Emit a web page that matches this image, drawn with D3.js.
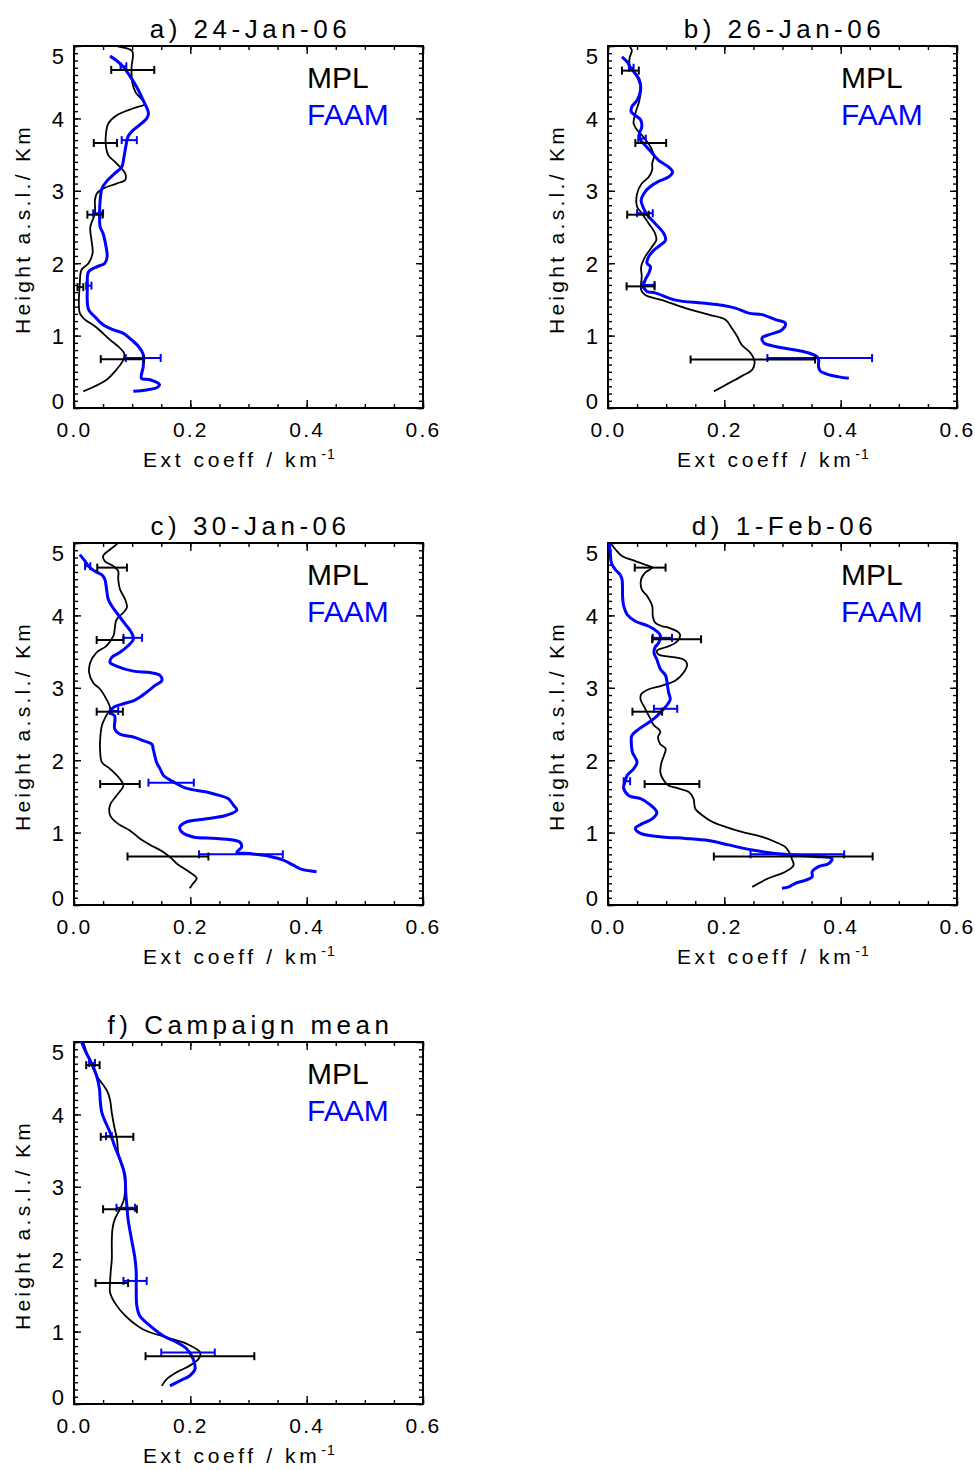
<!DOCTYPE html>
<html><head><meta charset="utf-8">
<script src="https://cdn.jsdelivr.net/npm/d3@7"></script>
<style>
body{margin:0;background:#fff}
text{font-family:"Liberation Sans",Arial,sans-serif;fill:#000}
</style>
</head><body>
<svg id="chart" width="975" height="1470"></svg>
<script>
// ---------------- DATA ----------------
const panelTitles = ["a) 24-Jan-06", "b) 26-Jan-06", "c) 30-Jan-06", "d) 1-Feb-06", "f) Campaign mean"];
const seriesNames = ["MPL", "FAAM"];
const xTickValues = [0.0, 0.2, 0.4, 0.6];
const yTickValues = [0, 1, 2, 3, 4, 5];
const xLabel = "Ext coeff / km";
const xLabelSup = "-1";
const yLabel = "Height a.s.l./ Km";

// profiles: [height km, extinction km^-1]
const mplA = [[5.05,0.06],[5.0,0.073],[4.93,0.10],[4.71,0.099],[4.50,0.100],[4.36,0.106],[4.25,0.118],[4.20,0.122],[4.14,0.102],[4.04,0.073],[3.93,0.059],[3.79,0.055],[3.61,0.055],[3.49,0.059],[3.38,0.073],[3.24,0.088],[3.15,0.088],[3.10,0.073],[3.03,0.050],[2.96,0.039],[2.87,0.036],[2.69,0.036],[2.50,0.028],[2.32,0.030],[2.14,0.032],[2.00,0.025],[1.91,0.013],[1.72,0.010],[1.31,0.010],[1.22,0.019],[1.13,0.036],[1.03,0.050],[0.94,0.062],[0.85,0.076],[0.76,0.086],[0.67,0.085],[0.53,0.073],[0.39,0.056],[0.30,0.036],[0.23,0.016]];
const faamA = [[4.86,0.062],[4.80,0.073],[4.71,0.085],[4.55,0.099],[4.43,0.108],[4.25,0.119],[4.07,0.128],[4.00,0.125],[3.93,0.116],[3.84,0.102],[3.75,0.093],[3.61,0.089],[3.47,0.086],[3.33,0.082],[3.24,0.070],[3.13,0.056],[3.03,0.048],[2.87,0.045],[2.69,0.044],[2.50,0.045],[2.41,0.050],[2.23,0.055],[2.09,0.057],[2.00,0.053],[1.95,0.039],[1.88,0.025],[1.68,0.023],[1.36,0.025],[1.26,0.036],[1.15,0.050],[1.08,0.068],[1.03,0.085],[0.94,0.099],[0.85,0.111],[0.74,0.119],[0.57,0.119],[0.41,0.116],[0.39,0.131],[0.32,0.147],[0.28,0.142],[0.25,0.125],[0.23,0.102]];
const errMplA = [[4.67,0.064,0.138],[3.66,0.034,0.074],[2.67,0.023,0.049],[1.67,0.006,0.016],[0.675,0.046,0.120]];
const errFaamA = [[4.72,0.080,0.090],[3.70,0.082,0.108],[2.69,0.033,0.050],[1.69,0.021,0.030],[0.69,0.089,0.149]];

const mplB = [[5.05,0.036],[4.99,0.038],[4.94,0.041],[4.83,0.037],[4.71,0.038],[4.57,0.050],[4.43,0.056],[4.25,0.054],[4.07,0.047],[3.93,0.044],[3.84,0.050],[3.77,0.058],[3.68,0.067],[3.56,0.076],[3.47,0.079],[3.38,0.076],[3.29,0.076],[3.19,0.070],[3.10,0.058],[2.96,0.050],[2.78,0.050],[2.69,0.058],[2.55,0.070],[2.41,0.081],[2.32,0.083],[2.23,0.076],[2.09,0.064],[1.95,0.057],[1.82,0.058],[1.63,0.057],[1.56,0.064],[1.49,0.093],[1.38,0.133],[1.29,0.173],[1.22,0.202],[1.10,0.213],[0.99,0.222],[0.87,0.230],[0.76,0.245],[0.64,0.252],[0.53,0.248],[0.44,0.230],[0.34,0.207],[0.23,0.182]];
const faamB = [[4.85,0.024],[4.78,0.033],[4.71,0.038],[4.62,0.047],[4.53,0.054],[4.39,0.056],[4.25,0.050],[4.16,0.041],[4.09,0.040],[4.04,0.047],[3.98,0.056],[3.88,0.058],[3.79,0.054],[3.70,0.056],[3.63,0.064],[3.52,0.076],[3.42,0.087],[3.33,0.104],[3.26,0.111],[3.19,0.104],[3.13,0.087],[3.06,0.073],[2.99,0.064],[2.87,0.057],[2.78,0.060],[2.67,0.067],[2.55,0.081],[2.41,0.096],[2.32,0.099],[2.25,0.090],[2.18,0.079],[2.09,0.070],[2.00,0.067],[1.95,0.073],[1.86,0.070],[1.77,0.064],[1.68,0.061],[1.61,0.067],[1.59,0.081],[1.49,0.116],[1.45,0.162],[1.42,0.196],[1.38,0.219],[1.31,0.242],[1.29,0.265],[1.22,0.288],[1.17,0.305],[1.08,0.299],[1.01,0.276],[0.97,0.265],[0.90,0.268],[0.85,0.288],[0.80,0.322],[0.76,0.345],[0.71,0.359],[0.67,0.362],[0.57,0.362],[0.51,0.365],[0.46,0.379],[0.43,0.397],[0.41,0.414]];
const errMplB = [[4.66,0.024,0.053],[3.66,0.047,0.100],[2.67,0.033,0.070],[1.68,0.032,0.080],[0.67,0.142,0.356]];
const errFaamB = [[4.70,0.036,0.044],[3.72,0.052,0.065],[2.69,0.050,0.077],[1.70,0.058,0.080],[0.69,0.274,0.454]];

const mplC = [[5.05,0.080],[4.98,0.073],[4.91,0.062],[4.82,0.050],[4.75,0.053],[4.68,0.068],[4.61,0.076],[4.50,0.076],[4.36,0.079],[4.22,0.088],[4.11,0.091],[4.04,0.085],[3.94,0.073],[3.81,0.070],[3.72,0.068],[3.58,0.056],[3.49,0.039],[3.35,0.028],[3.21,0.026],[3.07,0.033],[2.98,0.045],[2.84,0.056],[2.71,0.062],[2.61,0.055],[2.48,0.048],[2.29,0.045],[2.11,0.045],[1.97,0.048],[1.88,0.062],[1.74,0.079],[1.65,0.085],[1.51,0.073],[1.38,0.062],[1.24,0.062],[1.12,0.076],[1.03,0.096],[0.92,0.113],[0.83,0.131],[0.73,0.154],[0.64,0.168],[0.57,0.177],[0.48,0.194],[0.37,0.211],[0.30,0.205],[0.23,0.199]];
const faamC = [[4.84,0.010],[4.75,0.019],[4.68,0.025],[4.61,0.036],[4.56,0.048],[4.50,0.053],[4.36,0.056],[4.22,0.059],[4.13,0.065],[4.04,0.073],[3.88,0.088],[3.76,0.099],[3.67,0.102],[3.58,0.093],[3.49,0.079],[3.42,0.065],[3.35,0.062],[3.30,0.073],[3.23,0.102],[3.21,0.131],[3.17,0.148],[3.10,0.151],[3.03,0.139],[2.94,0.125],[2.87,0.113],[2.82,0.102],[2.78,0.085],[2.73,0.068],[2.66,0.062],[2.61,0.070],[2.43,0.070],[2.36,0.079],[2.32,0.102],[2.27,0.119],[2.22,0.134],[2.16,0.136],[2.06,0.139],[1.97,0.142],[1.88,0.148],[1.79,0.154],[1.70,0.171],[1.61,0.194],[1.56,0.228],[1.51,0.251],[1.47,0.265],[1.38,0.274],[1.31,0.280],[1.24,0.262],[1.19,0.228],[1.15,0.194],[1.08,0.182],[1.01,0.185],[0.94,0.205],[0.92,0.245],[0.87,0.285],[0.80,0.288],[0.73,0.280],[0.71,0.303],[0.67,0.337],[0.62,0.360],[0.55,0.377],[0.50,0.389],[0.46,0.417]];
const errMplC = [[4.66,0.040,0.091],[3.66,0.039,0.085],[2.67,0.039,0.084],[1.67,0.045,0.113],[0.67,0.092,0.231]];
const errFaamC = [[4.68,0.019,0.028],[3.69,0.085,0.117],[2.68,0.062,0.076],[1.69,0.128,0.206],[0.70,0.215,0.359]];

const mplD = [[5.00,0.004],[4.91,0.013],[4.82,0.024],[4.75,0.047],[4.70,0.064],[4.66,0.076],[4.59,0.064],[4.50,0.057],[4.36,0.058],[4.27,0.067],[4.13,0.076],[3.99,0.077],[3.90,0.081],[3.85,0.093],[3.83,0.104],[3.76,0.122],[3.72,0.124],[3.62,0.116],[3.56,0.099],[3.51,0.084],[3.46,0.087],[3.42,0.116],[3.39,0.130],[3.33,0.136],[3.21,0.130],[3.10,0.116],[3.03,0.093],[2.98,0.070],[2.91,0.057],[2.84,0.056],[2.71,0.064],[2.57,0.073],[2.48,0.079],[2.43,0.087],[2.39,0.090],[2.32,0.086],[2.22,0.090],[2.16,0.099],[2.06,0.096],[1.97,0.092],[1.83,0.090],[1.72,0.096],[1.65,0.104],[1.61,0.121],[1.56,0.139],[1.47,0.147],[1.33,0.150],[1.24,0.162],[1.15,0.179],[1.08,0.202],[1.01,0.230],[0.94,0.265],[0.87,0.288],[0.80,0.305],[0.71,0.313],[0.64,0.316],[0.55,0.319],[0.46,0.305],[0.37,0.276],[0.25,0.248]];
const faamD = [[5.00,0.002],[4.86,0.004],[4.72,0.006],[4.63,0.013],[4.56,0.021],[4.50,0.024],[4.36,0.025],[4.27,0.025],[4.13,0.027],[4.01,0.033],[3.92,0.047],[3.85,0.070],[3.78,0.084],[3.72,0.090],[3.62,0.087],[3.56,0.081],[3.49,0.079],[3.39,0.084],[3.26,0.090],[3.17,0.099],[3.05,0.102],[2.94,0.104],[2.84,0.107],[2.78,0.103],[2.71,0.096],[2.61,0.084],[2.52,0.070],[2.43,0.053],[2.34,0.041],[2.25,0.040],[2.11,0.042],[1.97,0.050],[1.88,0.044],[1.79,0.033],[1.70,0.029],[1.61,0.027],[1.51,0.036],[1.47,0.056],[1.40,0.070],[1.28,0.084],[1.19,0.076],[1.12,0.058],[1.06,0.047],[0.99,0.056],[0.94,0.093],[0.92,0.133],[0.89,0.173],[0.83,0.207],[0.76,0.248],[0.71,0.288],[0.69,0.322],[0.67,0.356],[0.64,0.385],[0.57,0.379],[0.53,0.362],[0.46,0.351],[0.39,0.351],[0.34,0.339],[0.30,0.322],[0.25,0.311],[0.23,0.299]];
const errMplD = [[4.66,0.046,0.099],[3.67,0.076,0.160],[2.67,0.042,0.093],[1.67,0.063,0.157],[0.67,0.182,0.455]];
const errFaamD = [[3.69,0.077,0.110],[2.71,0.079,0.119],[1.71,0.027,0.038],[0.70,0.245,0.406]];

const mplF = [[5.05,0.014],[5.00,0.016],[4.85,0.022],[4.69,0.030],[4.53,0.039],[4.41,0.050],[4.32,0.057],[4.20,0.062],[4.02,0.065],[3.84,0.069],[3.65,0.074],[3.47,0.076],[3.29,0.082],[3.17,0.088],[3.01,0.088],[2.83,0.086],[2.69,0.079],[2.55,0.070],[2.41,0.066],[2.23,0.065],[2.00,0.065],[1.82,0.063],[1.68,0.062],[1.54,0.062],[1.40,0.070],[1.22,0.088],[1.03,0.119],[0.92,0.159],[0.83,0.194],[0.71,0.217],[0.62,0.214],[0.53,0.199],[0.44,0.177],[0.34,0.159],[0.25,0.151]];
const faamF = [[5.05,0.011],[5.00,0.013],[4.85,0.021],[4.71,0.030],[4.53,0.039],[4.34,0.044],[4.20,0.045],[4.02,0.048],[3.86,0.056],[3.75,0.062],[3.56,0.070],[3.38,0.079],[3.24,0.085],[3.10,0.088],[2.92,0.089],[2.73,0.091],[2.55,0.093],[2.27,0.099],[2.00,0.105],[1.82,0.107],[1.59,0.107],[1.36,0.108],[1.22,0.113],[1.08,0.131],[0.94,0.154],[0.85,0.177],[0.76,0.194],[0.62,0.205],[0.48,0.208],[0.39,0.199],[0.32,0.182],[0.25,0.165]];
const errMplF = [[4.68,0.021,0.044],[3.69,0.046,0.102],[2.69,0.050,0.108],[1.67,0.037,0.093],[0.66,0.123,0.310]];
const errFaamF = [[4.71,0.026,0.036],[3.70,0.055,0.065],[2.71,0.073,0.105],[1.70,0.085,0.125],[0.71,0.150,0.242]];

// ---------------- LAYOUT ----------------
const profiles = [
  {mpl: mplA, faam: faamA, eM: errMplA, eF: errFaamA},
  {mpl: mplB, faam: faamB, eM: errMplB, eF: errFaamB},
  {mpl: mplC, faam: faamC, eM: errMplC, eF: errFaamC},
  {mpl: mplD, faam: faamD, eM: errMplD, eF: errFaamD},
  {mpl: mplF, faam: faamF, eM: errMplF, eF: errFaamF}
];
const origins = [[74,46],[608,46],[74,543],[608,543],[74,1042]];
const W = 349, H = 362;
const colors = ["#000000", "#0000ff"];
const FONT = '"Liberation Sans",Arial,sans-serif';

const svg = d3.select("#chart");
const x = d3.scaleLinear().domain([0, 0.6]).range([0, W]);
const y = d3.scaleLinear().domain([0, 5]).range([H, 0]);

profiles.forEach((p, i) => {
  const [L, T] = origins[i];
  const g = svg.append("g").attr("transform", `translate(${L},${T})`);
  const cid = "clip" + i;
  g.append("clipPath").attr("id", cid).append("rect").attr("width", W).attr("height", H);

  // minor ticks
  const xMinor = d3.range(0, 0.6001, 0.05);
  const yMinor = d3.range(0, 5.0001, 0.1);
  const styleAxis = a => { a.select(".domain").remove(); a.selectAll("line").attr("stroke", "#000").attr("stroke-width", 1.4); };
  g.append("g").attr("transform", `translate(0,${H})`).call(d3.axisBottom(x).tickValues(xMinor).tickSize(-4).tickFormat("")).call(styleAxis);
  g.append("g").call(d3.axisTop(x).tickValues(xMinor).tickSize(-4).tickFormat("")).call(styleAxis);
  g.append("g").call(d3.axisLeft(y).tickValues(yMinor).tickSize(-4).tickFormat("")).call(styleAxis);
  g.append("g").attr("transform", `translate(${W},0)`).call(d3.axisRight(y).tickValues(yMinor).tickSize(-4).tickFormat("")).call(styleAxis);

  // major ticks
  const xb = g.append("g").attr("transform", `translate(0,${H})`)
    .call(d3.axisBottom(x).tickValues(xTickValues).tickSize(-8).tickFormat(d3.format(".1f"))).call(styleAxis);
  xb.selectAll("text").attr("y", 29).attr("dy", null).attr("font-size", 21)
    .attr("letter-spacing", 2.2).attr("dx", 0).style("font-family", FONT);
  g.append("g").call(d3.axisTop(x).tickValues(xTickValues).tickSize(-8).tickFormat("")).call(styleAxis);
  const yl = g.append("g").call(d3.axisLeft(y).tickValues(yTickValues).tickSize(-7).tickFormat(d3.format("d"))).call(styleAxis);
  yl.selectAll("text").attr("x", -10).attr("dy", "0.36em").attr("font-size", 22)
    .attr("y", d => d === 5 ? 10 : (d === 0 ? -7 : 0))
    .style("font-family", FONT);
  g.append("g").attr("transform", `translate(${W},0)`).call(d3.axisRight(y).tickValues(yTickValues).tickSize(-7).tickFormat("")).call(styleAxis);

  // frame
  g.append("rect").attr("width", W).attr("height", H).attr("fill", "none").attr("stroke", "#000").attr("stroke-width", 2);

  // curves
  const line = d3.line().x(d => x(d[1])).y(d => y(d[0])).curve(d3.curveCatmullRom.alpha(0.5));
  const cg = g.append("g").attr("clip-path", `url(#${cid})`);
  cg.append("path").datum(p.mpl).attr("d", line).attr("fill", "none").attr("stroke", colors[0]).attr("stroke-width", 1.8);
  cg.append("path").datum(p.faam).attr("d", line).attr("fill", "none").attr("stroke", colors[1]).attr("stroke-width", 3).attr("stroke-linejoin", "round");

  // error bars
  const drawErr = (data, col) => {
    const eg = g.append("g").attr("stroke", col).attr("stroke-width", 2).attr("fill", "none");
    data.forEach(e => {
      const yy = y(e[0]);
      eg.append("line").attr("x1", x(e[1])).attr("x2", x(e[2])).attr("y1", yy).attr("y2", yy);
      eg.append("line").attr("x1", x(e[1])).attr("x2", x(e[1])).attr("y1", yy - 4).attr("y2", yy + 4);
      eg.append("line").attr("x1", x(e[2])).attr("x2", x(e[2])).attr("y1", yy - 4).attr("y2", yy + 4);
    });
  };
  drawErr(p.eF, colors[1]);
  drawErr(p.eM, colors[0]);

  // title
  g.append("text").attr("x", W / 2 + 2).attr("y", -8).attr("text-anchor", "middle")
    .attr("font-size", 26).attr("letter-spacing", 4.5).text(panelTitles[i]);

  // legend
  seriesNames.forEach((s, k) => {
    g.append("text").attr("x", 233).attr("y", 42 + k * 37).attr("font-size", 30)
      .style("fill", colors[k]).text(s);
  });

  // x label
  const xt = g.append("text").attr("x", 69).attr("y", H + 59).attr("font-size", 21).attr("letter-spacing", 3.6);
  xt.append("tspan").text(xLabel);
  xt.append("tspan").attr("font-size", 14).attr("dy", -8).attr("dx", 1).attr("letter-spacing", 1).text(xLabelSup);

  // y label
  g.append("text").attr("transform", `translate(-44,${H / 2 + 2}) rotate(-90)`).attr("text-anchor", "middle")
    .attr("font-size", 21).attr("letter-spacing", 3.3).text(yLabel);
});
</script>
</body></html>
